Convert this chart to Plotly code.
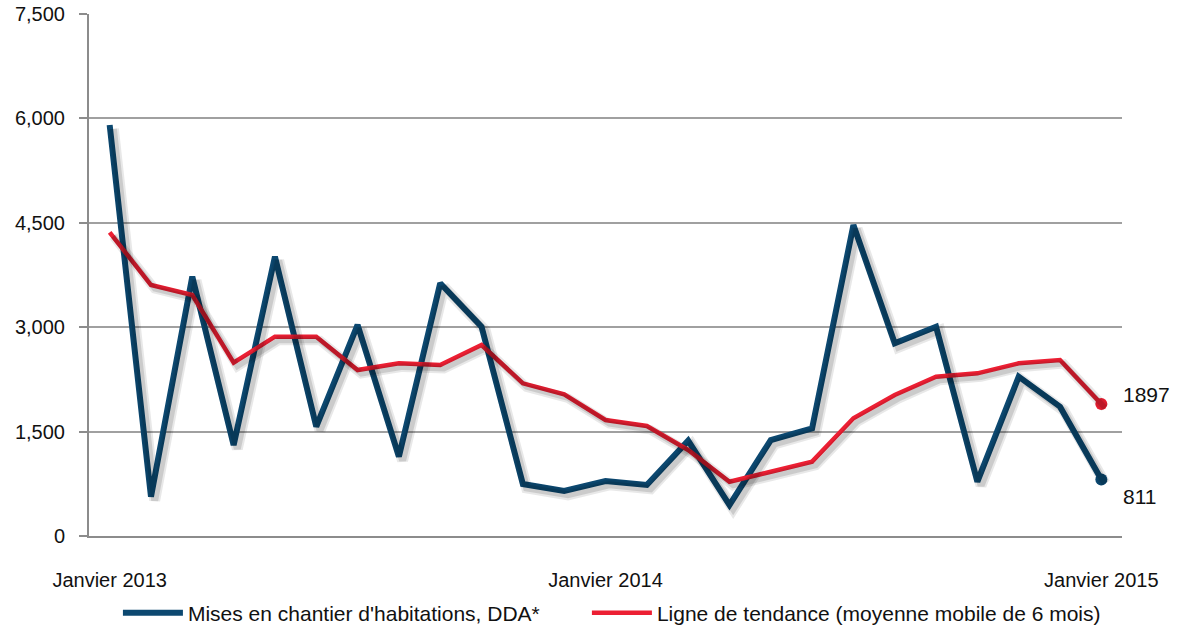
import plotly.graph_objects as go

months = list(range(25))
tick_vals = [0, 12, 24]
tick_text = ["Janvier 2013", "Janvier 2014", "Janvier 2015"]

mises = [5905, 565, 3726, 1307, 4013, 1571, 3032, 1140, 3631, 3007, 747, 647,
         790, 733, 1369, 445, 1379, 1547, 4468, 2768, 3007, 780, 2289, 1858, 811]
tendance = [4363, 3606, 3463, 2490, 2864, 2864, 2385, 2481, 2457, 2744, 2194, 2036,
            1667, 1580, 1236, 780, 924, 1068, 1691, 2026, 2289, 2337, 2481, 2529, 1897]

name_a = "Mises en chantier d'habitations, DDA*"
name_b = "Ligne de tendance (moyenne mobile de 6 mois)"
blue = "#0C4870"
red = "#EC1F33"

fig = go.Figure()

# soft shadows (same data on slightly shifted hidden axes)
for ys, w in [(mises, 6), (tendance, 4.5)]:
    fig.add_trace(go.Scatter(x=months, y=ys, mode="lines", xaxis="x2", yaxis="y2",
                             line=dict(color="rgba(0,0,0,0.09)", width=w + 5),
                             showlegend=False, hoverinfo="skip"))
    fig.add_trace(go.Scatter(x=months, y=ys, mode="lines", xaxis="x2", yaxis="y2",
                             line=dict(color="rgba(0,0,0,0.12)", width=w + 1),
                             showlegend=False, hoverinfo="skip"))

fig.add_trace(go.Scatter(x=months, y=mises, mode="lines", name=name_a,
                         line=dict(color=blue, width=6), legend="legend"))
fig.add_trace(go.Scatter(x=months, y=tendance, mode="lines", name=name_b,
                         line=dict(color=red, width=4.5), legend="legend2"))
fig.add_trace(go.Scatter(x=[months[-1]], y=[mises[-1]], mode="markers",
                         marker=dict(color=blue, size=12), showlegend=False))
fig.add_trace(go.Scatter(x=[months[-1]], y=[tendance[-1]], mode="markers",
                         marker=dict(color=red, size=12), showlegend=False))

fig.add_annotation(x=months[-1], y=tendance[-1], text=str(tendance[-1]), showarrow=False,
                   xanchor="left", xshift=20, yshift=9, font=dict(size=21, color="#111"))
fig.add_annotation(x=months[-1], y=mises[-1], text=str(mises[-1]), showarrow=False,
                   xanchor="left", xshift=20, yshift=-17, font=dict(size=21, color="#111"))

legend_style = dict(orientation="h", xanchor="left", y=-0.1475, yanchor="middle",
                    font=dict(size=21), itemwidth=60, bgcolor="rgba(0,0,0,0)")

fig.update_layout(
    width=1180, height=628,
    margin=dict(l=89, r=58, t=14, b=92, autoexpand=False),
    plot_bgcolor="white", paper_bgcolor="white",
    font=dict(family="Liberation Sans, Arial, sans-serif", color="#111"),
    xaxis=dict(range=[-0.5, 24.5], tickvals=tick_vals, ticktext=tick_text,
               showgrid=False, zeroline=False, showline=True, linecolor="#8c8c8c",
               linewidth=2, ticks="", tickfont=dict(size=20), ticklabelstandoff=25),
    yaxis=dict(range=[0, 7500], tickvals=[0, 1500, 3000, 4500, 6000, 7500],
               tickformat=",d", showgrid=True, gridcolor="#a0a0a0", gridwidth=1.5,
               zeroline=False, showline=True, linecolor="#8c8c8c", linewidth=2,
               ticks="outside", ticklen=8, tickcolor="#8c8c8c", tickwidth=1.5,
               tickfont=dict(size=20), ticklabelstandoff=10),
    xaxis2=dict(range=[-0.5 - 0.09, 24.5 - 0.09], overlaying="x", visible=False),
    yaxis2=dict(range=[55, 7555], overlaying="y", visible=False),
    legend=dict(x=0.028, **legend_style),
    legend2=dict(x=0.482, **legend_style),
    showlegend=True,
)

fig.write_html("out.html", config={"displayModeBar": False},
               post_script="document.body.style.margin='0';")
